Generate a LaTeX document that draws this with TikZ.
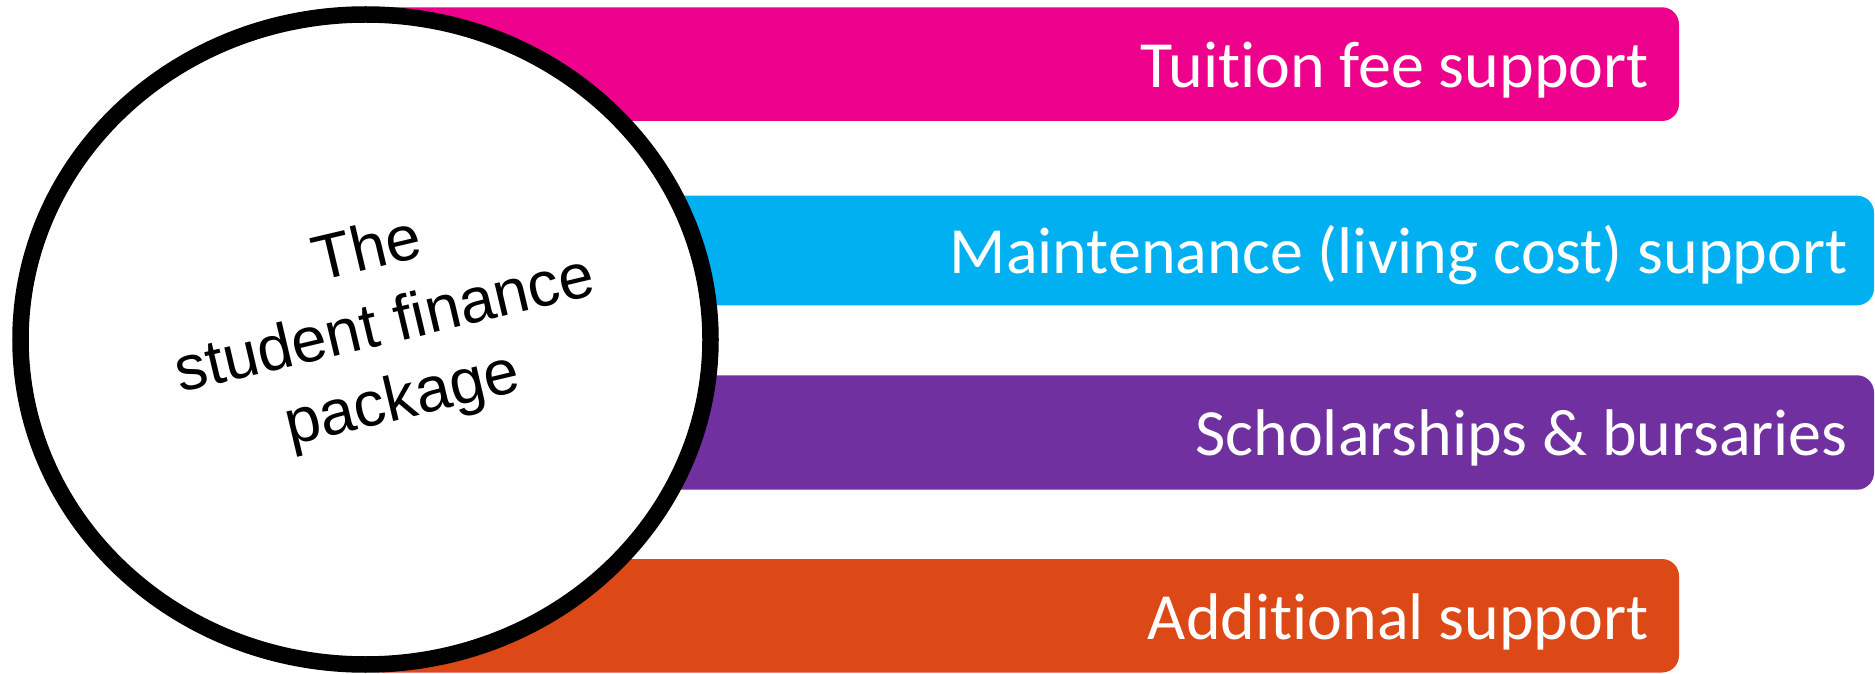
\documentclass[tikz,border=0pt]{standalone}
\usepackage{fontspec}
\usetikzlibrary{shapes.geometric}
\newfontfamily\calibfont[Ligatures={NoCommon}]{Carlito}
\newfontfamily\arialfont{Liberation Sans}
\definecolor{barMagenta}{HTML}{EC008C}
\definecolor{barCyan}{HTML}{00B0F0}
\definecolor{barPurple}{HTML}{7030A0}
\definecolor{barOrange}{HTML}{DC4816}
\tikzset{
  barshape/.style={rounded corners=17pt},
  bartext/.style={anchor=base east, inner sep=0pt, text=white,
    font=\calibfont\fontsize{66}{79}\selectfont},
  intext/.style={inner sep=0pt, text=black, align=center,
    font=\arialfont\fontsize{63.3}{76.5}\selectfont},
}
\begin{document}
\begin{tikzpicture}[x=1pt,y=1pt]
\useasboundingbox (0,0) rectangle (1875,673);
\fill[white] (0,0) rectangle (1875,673);
% bars
\fill[barshape, barMagenta] (365,552) rectangle (1679,665.7);
\fill[barshape, barCyan]    (365,367.7) rectangle (1874,477.3);
\fill[barshape, barPurple]  (365,183.3) rectangle (1874,297.7);
\fill[barshape, barOrange]  (365,0.5) rectangle (1679,114);
% circle
\node[draw=black, fill=white, ellipse, line width=16.5pt, inner sep=0pt,
      minimum width=690pt, minimum height=650pt] (pkg) at (365.5,333.5) {};
% bar labels
\node[bartext] (t1) at (1649,585.7) {Tuition fee support};
\node[bartext] (t2) at (1848,399) {Maintenance (living cost) support};
\node[bartext] (t3) at (1848,217.3) {Scholarships \& bursaries};
\node[bartext] (t4) at (1649,34) {Additional support};
% circle text
\node[intext, rotate=13.3] (ctext) at (385.4,345.4)
  {The\\student finance\\package};
\end{tikzpicture}
\end{document}
